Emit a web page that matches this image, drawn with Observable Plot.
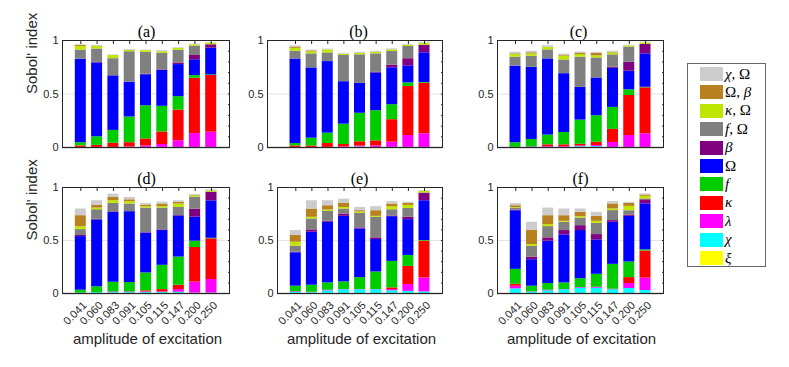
<!DOCTYPE html>
<html><head><meta charset="utf-8">
<script src="https://cdn.jsdelivr.net/npm/d3@7"></script>
<script src="https://cdn.jsdelivr.net/npm/@observablehq/plot@0.6"></script>
<style>
body{margin:0;background:#fff;}
#wrap{position:relative;width:789px;height:367px;overflow:hidden;font-family:"Liberation Sans",Arial,sans-serif;background:#fff;}
#legend{position:absolute;left:687px;top:63px;width:79px;height:204px;border:1px solid #666;box-sizing:border-box;background:#fff;}
.item{position:absolute;left:12px;height:14px;display:flex;align-items:center;font-family:"Liberation Serif","Times New Roman",serif;font-size:15px;color:#000;white-space:nowrap;}
.sw{width:23px;height:14px;margin-right:2px;flex:none;}
</style></head><body><div id="wrap"><div id="legend"></div></div>
<script>
// ---------- data ----------
const categories = ["0.041","0.060","0.083","0.091","0.105","0.115","0.147","0.200","0.250"];
// stacking order, bottom to top
const components = ["ξ","χ","λ","κ","f","Ω","β","f,Ω","κ,Ω","Ω,β","χ,Ω"];
const componentColors = ["#ffff00","#00ffff","#ff00ff","#ff0000","#00cc00","#0000ff","#800080","#808080","#bfe600","#b8801e","#cccccc"];
const legendLabels = {"χ,Ω":"<i>χ</i>, Ω","Ω,β":"Ω, <i>β</i>","κ,Ω":"<i>κ</i>, Ω","f,Ω":"<i>f</i>, Ω","β":"<i>β</i>","Ω":"Ω","f":"<i>f</i>","κ":"<i>κ</i>","λ":"<i>λ</i>","χ":"<i>χ</i>","ξ":"<i>ξ</i>"};
const panelTitles = ["(a)","(b)","(c)","(d)","(e)","(f)"];
const yLabel = "Sobol' index";
const xLabel = "amplitude of excitation";

// each row: one amplitude; columns follow `components`
const panelA = [
  [0,0,0,0.015,0.03,0.78,0,0.085,0.035,0.01,0.005],
  [0,0,0,0.02,0.08,0.69,0.005,0.125,0.025,0,0.008],
  [0,0,0,0.04,0.12,0.51,0,0.16,0.03,0,0.005],
  [0,0,0.005,0.04,0.24,0.325,0,0.285,0.012,0,0.008],
  [0,0,0.015,0.065,0.31,0.29,0.005,0.205,0.015,0,0.005],
  [0,0,0.028,0.117,0.24,0.335,0.005,0.155,0.015,0,0.01],
  [0,0,0.063,0.287,0.125,0.3,0.015,0.12,0.016,0,0.006],
  [0,0,0.13,0.517,0.025,0.148,0.04,0.087,0.013,0,0.005],
  [0,0,0.143,0.53,0.005,0.25,0.032,0,0.015,0,0.005]
];
const panelB = [
  [0,0,0,0.015,0.022,0.79,0,0.072,0.028,0.012,0.01],
  [0,0,0,0.015,0.072,0.657,0,0.131,0.019,0.009,0.007],
  [0,0,0,0.037,0.097,0.669,0,0.081,0.028,0,0.008],
  [0,0,0.005,0.023,0.19,0.397,0,0.245,0.012,0,0.008],
  [0,0.005,0.008,0.04,0.267,0.28,0,0.266,0.014,0,0.01],
  [0,0,0.015,0.047,0.282,0.353,0.005,0.173,0.015,0,0.01],
  [0,0,0.05,0.21,0.14,0.345,0.025,0.127,0.016,0,0.009],
  [0,0,0.112,0.458,0.034,0.159,0.067,0.114,0.012,0,0.007],
  [0,0,0.128,0.472,0.007,0.278,0.071,0,0.019,0,0.009]
];
const panelC = [
  [0,0,0,0,0.045,0.715,0,0.084,0.025,0.006,0.015],
  [0,0,0.005,0,0.07,0.675,0,0.103,0.022,0.01,0.015],
  [0,0,0.007,0.018,0.091,0.712,0,0.084,0.025,0,0.015],
  [0,0,0.007,0.018,0.115,0.55,0,0.128,0.036,0.006,0.013],
  [0,0.008,0.006,0.016,0.226,0.306,0,0.282,0.025,0.01,0.014],
  [0,0.008,0.01,0.032,0.247,0.353,0,0.187,0.019,0.024,0.01],
  [0,0,0.047,0.122,0.206,0.365,0.01,0.116,0.018,0.006,0.01],
  [0,0,0.112,0.374,0.053,0.174,0.084,0.141,0.012,0,0.006],
  [0,0,0.128,0.43,0.005,0.312,0.088,0,0.015,0,0.006]
];
const panelD = [
  [0,0.003,0,0,0.028,0.506,0.01,0.056,0.027,0.104,0.063],
  [0,0.008,0,0,0.055,0.631,0.006,0.09,0.016,0.024,0.045],
  [0,0.008,0.006,0,0.092,0.66,0.005,0.079,0.025,0.031,0.031],
  [0,0.008,0.006,0,0.089,0.669,0,0.072,0.022,0.018,0.022],
  [0,0.01,0.005,0.01,0.169,0.375,0.005,0.232,0.013,0.015,0.016],
  [0,0.01,0.005,0.022,0.229,0.328,0.006,0.206,0.013,0.025,0.018],
  [0,0.012,0.025,0.041,0.266,0.387,0.005,0.076,0.032,0.016,0.015],
  [0,0.003,0.104,0.327,0.06,0.226,0.076,0.113,0.012,0.006,0.007],
  [0,0.003,0.129,0.384,0.005,0.353,0.082,0,0.013,0,0.009]
];
const panelE = [
  [0,0.01,0.006,0,0.053,0.315,0.006,0.057,0.037,0.063,0.047],
  [0,0.008,0.004,0,0.066,0.5,0.022,0.103,0.016,0.078,0.078],
  [0,0.025,0.006,0,0.069,0.572,0.009,0.094,0.013,0.04,0.047],
  [0,0.035,0.003,0,0.071,0.619,0.022,0.047,0.015,0.038,0.04],
  [0,0.035,0.003,0,0.112,0.459,0.01,0.137,0.013,0.012,0.031],
  [0,0.035,0.003,0,0.165,0.306,0.016,0.194,0.009,0.053,0.038],
  [0,0.025,0.012,0.016,0.25,0.422,0.006,0.059,0.029,0.025,0.022],
  [0,0.02,0.064,0.172,0.103,0.338,0.022,0.084,0.028,0.019,0.012],
  [0,0.015,0.132,0.347,0.006,0.375,0.069,0.005,0.013,0,0.008]
];
const panelF = [
  [0,0.044,0.025,0.019,0.14,0.553,0.006,0.019,0.005,0.017,0.022],
  [0,0.012,0.003,0,0.054,0.25,0.025,0.103,0.015,0.132,0.078],
  [0,0.025,0.006,0,0.063,0.4,0.031,0.106,0.019,0.084,0.072],
  [0,0.035,0.003,0,0.062,0.453,0.041,0.078,0.009,0.053,0.063],
  [0,0.05,0.006,0,0.084,0.454,0.046,0.072,0.013,0.041,0.031],
  [0,0.05,0.009,0,0.122,0.325,0.05,0.106,0.019,0.047,0.038],
  [0,0.035,0.005,0,0.235,0.397,0.016,0.094,0.016,0.047,0.022],
  [0,0.047,0.047,0.056,0.147,0.431,0.012,0.041,0.041,0.028,0.01],
  [0,0.028,0.117,0.255,0.012,0.434,0.038,0.008,0.025,0.012,0.01]
];

// ---------- layout ----------
const layout = [
  {values: panelA, left: 62, right: 229, top: 40, bottom: 147, c1: 80.3, c9: 210.7, titleX: 146, ylab: true, xaxis: false},
  {values: panelB, left: 267, right: 442, top: 40, bottom: 147, c1: 295, c9: 424, titleX: 358, ylab: false, xaxis: false},
  {values: panelC, left: 497, right: 663, top: 40, bottom: 147, c1: 515, c9: 645, titleX: 578, ylab: false, xaxis: false},
  {values: panelD, left: 62, right: 229, top: 187, bottom: 293, c1: 80.3, c9: 211, titleX: 146, xlabX: 147, ylab: true, xaxis: true},
  {values: panelE, left: 277, right: 442, top: 187, bottom: 293, c1: 295.3, c9: 424, titleX: 359, xlabX: 361, ylab: false, xaxis: true},
  {values: panelF, left: 497, right: 663, top: 187, bottom: 293, c1: 515.3, c9: 645, titleX: 580, xlabX: 581, ylab: false, xaxis: true}
];

const wrap = document.getElementById("wrap");
const ink = "#262626";

layout.forEach((p, k) => {
  const rows = [];
  p.values.forEach((row, i) => row.forEach((v, j) => rows.push({cat: categories[i], comp: components[j], value: v})));
  const W = p.right - p.left, H = p.bottom - p.top;
  const ml = 50, mr = 10, mt = 30, mb = p.xaxis ? 62 : 10;
  const bw = 11;
  const step = (p.c9 - p.c1) / 8;
  const pin = 1 - bw / step;
  const outer = W - step * (9 - pin);
  const pout = outer / (2 * step);
  const align = (p.c1 - bw / 2 - p.left) / outer;
  const cx = (p.left + p.right) / 2;
  const marks = [
    Plot.ruleY([0.5], {stroke: "#e4e4e4"}),
    Plot.barY(rows, {x: "cat", y: "value", fill: "comp", order: components}),
    Plot.ruleY([0], {stroke: "#777", strokeWidth: 1.5}),
    Plot.frame({stroke: ink}),
    Plot.axisY({anchor: "left", ticks: [0, 0.5, 1], tickSize: 0, tickPadding: 4, tickFormat: d => String(d), fontSize: 11, fill: ink, label: null}),
    Plot.axisY({anchor: "right", ticks: d3.range(0, 1.001, 0.1), tickSize: -2, fill: "none", stroke: ink, label: null}),
    Plot.axisX({anchor: "top", tickSize: -3, fill: "none", stroke: ink, label: null}),
    Plot.text([panelTitles[k]], {text: d => d, frameAnchor: "top", dy: -4, dx: p.titleX - cx, lineAnchor: "bottom", fontFamily: "'Liberation Serif','Times New Roman',serif", fontSize: 16, fill: "#000"})
  ];
  if (p.ylab) {
    marks.push(Plot.text([yLabel], {text: d => d, frameAnchor: "left", rotate: -90, dx: -30, fontSize: 15, fill: ink}));
  }
  if (p.xaxis) {
    marks.push(Plot.axisX({anchor: "bottom", tickSize: 0, tickPadding: 10, tickRotate: -45, dx: 4, fontSize: 11, fill: ink, label: null}));
    marks.push(Plot.text([xLabel], {text: d => d, frameAnchor: "bottom", dy: 46, dx: p.xlabX - cx, lineAnchor: "middle", fontSize: 15, fill: ink}));
  }
  const svg = Plot.plot({
    width: W + ml + mr,
    height: H + mt + mb,
    marginLeft: ml, marginRight: mr, marginTop: mt, marginBottom: mb,
    style: {background: "transparent", overflow: "visible", fontFamily: "'Liberation Sans', Arial, sans-serif", fontSize: "11px", color: ink},
    x: {type: "band", domain: categories, paddingInner: pin, paddingOuter: pout, align: align, round: false, label: null},
    y: {domain: [0, 1], label: null},
    color: {type: "ordinal", domain: components, range: componentColors},
    marks
  });
  svg.style.position = "absolute";
  svg.style.left = (p.left - ml) + "px";
  svg.style.top = (p.top - mt) + "px";
  svg.style.maxWidth = "none";
  wrap.appendChild(svg);
});

// legend (top entry = last stacked component)
const legend = document.getElementById("legend");
components.slice().reverse().forEach((c, i) => {
  const item = document.createElement("div");
  item.className = "item";
  item.style.top = (10 + 18.4 * i - 7) + "px";
  const sw = document.createElement("div");
  sw.className = "sw";
  sw.style.background = componentColors[components.indexOf(c)];
  const lab = document.createElement("span");
  lab.innerHTML = legendLabels[c];
  item.appendChild(sw);
  item.appendChild(lab);
  legend.appendChild(item);
});
wrap.appendChild(legend);
</script>
</body></html>
